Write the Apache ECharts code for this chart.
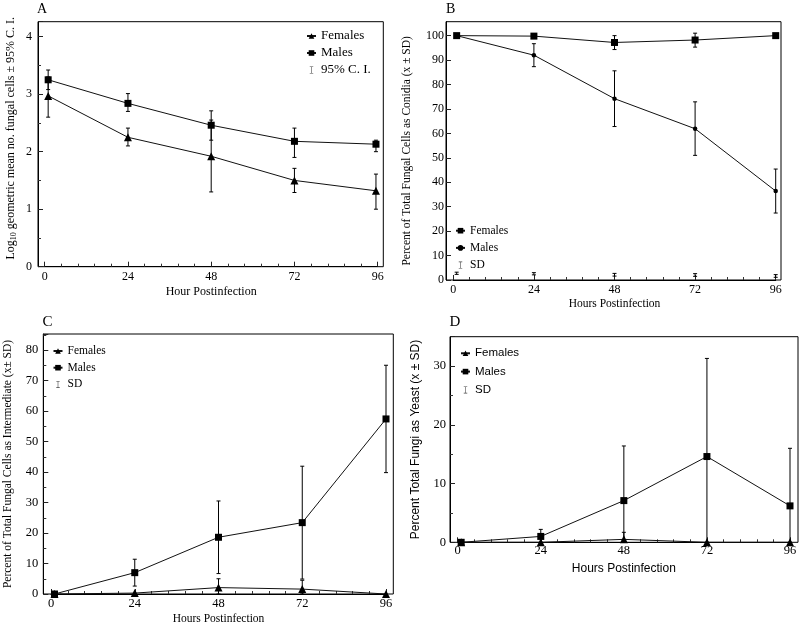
<!DOCTYPE html>
<html><head><meta charset="utf-8">
<script src="https://cdn.jsdelivr.net/npm/echarts@6/dist/echarts.min.js"></script>
<style>html,body{margin:0;padding:0;background:#fff}#c{width:800px;height:629px}</style>
</head><body><div id="c"></div>
<script>
// ---------- data ----------
const hours  = [1, 24, 48, 72, 96];
const hoursA = [1, 24, 48, 72, 95.5];
const xTickLabels = [0, 24, 48, 72, 96];

// Panel A: log10 geometric mean no. fungal cells ± 95% C.I.
const yTicksA = [0, 1, 2, 3, 4];
const aFemales     = [2.97, 2.25, 1.92, 1.50, 1.32];
const aFemalesLow  = [2.60, 2.10, 1.30, 1.29, 1.00];
const aFemalesHigh = [3.30, 2.41, 2.55, 1.71, 1.61];
const aMales       = [3.25, 2.84, 2.46, 2.18, 2.13];
const aMalesLow    = [3.08, 2.70, 2.20, 1.90, 2.00];
const aMalesHigh   = [3.42, 3.01, 2.71, 2.41, 2.20];

// Panel B: percent as conidia
const yTicksB = [0, 10, 20, 30, 40, 50, 60, 70, 80, 90, 100];
const bFemales     = [100, 99.8, 97.2, 98.2, 100];
const bFemalesLow  = [100, 99.8, 94.3, 95.3, 100];
const bFemalesHigh = [100, 99.8, 100.0, 101.0, 100];
const bMales       = [100, 92.0, 74.2, 61.9, 36.4];
const bMalesLow    = [100, 87.3, 62.8, 51.0, 27.4];
const bMalesHigh   = [100, 96.7, 85.6, 72.9, 45.4];
const bBaseLow     = [2.3, 2.1, 1.6, 1.5, 1.1];
const bBaseHigh    = [3.2, 3.0, 2.7, 2.6, 2.2];

// Panel C: percent as intermediate
const yTicksC = [0, 10, 20, 30, 40, 50, 60, 70, 80];
const cFemales     = [0, 0.3, 2.1, 1.6, 0];
const cFemalesLow  = [0, 0.3, 0, 0, 0];
const cFemalesHigh = [0, 0.3, 5.0, 4.5, 0];
const cMales       = [0, 7.0, 18.6, 23.4, 57.4];
const cMalesLow    = [0, 2.6, 6.7, 4.9, 39.8];
const cMalesHigh   = [0, 11.4, 30.5, 41.9, 75.0];

// Panel D: percent as yeast
const yTicksD = [0, 10, 20, 30];
const dFemales     = [0, 0, 0.5, 0, 0];
const dFemalesLow  = [0, 0, 0, 0, 0];
const dFemalesHigh = [0, 0, 1.7, 0, 0];
const dMales       = [0, 1.0, 7.1, 14.6, 6.2];
const dMalesLow    = [0, 0, 0, 0, 0];
const dMalesHigh   = [0, 2.2, 16.4, 31.3, 16.0];

// ---------- layout / style ----------
const SERIF = '"Liberation Serif","Times New Roman",serif';
const SANS = '"Liberation Sans",Arial,sans-serif';
const IBEAM = 'path://M0,0H6V1H3.5V11H6V12H0V11H2.5V1H0Z';

const panels = [
  {key:'A', box:[38,21.7,345.3,245], gx:[44.7,377.7], yMax:4.26, yTicks:yTicksA, yMinor:2,
   xName:'Hour Postinfection', xGap:19, yName:'Log{s|10} geometric mean no. fungal cells ± 95% C. I.', yGap:20, yShift:12,
   nameFont:SERIF, nameSize:12, labelSize:12, xMargin:4, yMargin:6},
  {key:'B', box:[446,21.7,335,258.3], gx:[453.3,775.7], yMax:105.7, yTicks:yTicksB, yMinor:0,
   xName:'Hours Postinfection', xGap:18, yName:'Percent of Total Fungal Cells as Conidia (x ± SD)', yGap:32, yShift:0,
   nameFont:SERIF, nameSize:11.5, labelSize:12, xMargin:4, yMargin:2},
  {key:'C', box:[43.3,334,350,260], gx:[51,386], yMax:85.25, yTicks:yTicksC, yMinor:2,
   xName:'Hours Postinfection', xGap:18.5, yName:'Percent of Total Fungal Cells as Intermediate (x± SD)', yGap:28, yShift:0,
   nameFont:SERIF, nameSize:11.5, labelSize:12.5, xMargin:3, yMargin:5},
  {key:'D', box:[450,336.7,348,205.6], gx:[457.7,790], yMax:35, yTicks:yTicksD, yMinor:2,
   xName:'Hours Postinfection', xGap:20, yName:'Percent Total Fungi as Yeast (x ± SD)', yGap:27, yShift:0,
   nameFont:SANS, nameSize:12, labelSize:12.5, xMargin:2, yMargin:4}
];

const pts = (xs, ys) => xs.map((x, i) => [x, ys[i]]);
const bars = (xs, lo, hi) => xs.map((x, i) => [x, lo[i], hi[i]]);

function errItem(params, api) {
  const x = api.value(0), lo = api.value(1), hi = api.value(2);
  if (!(hi > lo)) return null;
  const a = api.coord([x, hi]), b = api.coord([x, lo]);
  const w = 2;
  const st = {stroke: '#000', lineWidth: 1};
  return {type: 'group', children: [
    {type: 'line', shape: {x1: a[0], y1: a[1], x2: b[0], y2: b[1]}, style: st},
    {type: 'line', shape: {x1: a[0] - w, y1: a[1], x2: a[0] + w, y2: a[1]}, style: st},
    {type: 'line', shape: {x1: b[0] - w, y1: b[1], x2: b[0] + w, y2: b[1]}, style: st}
  ]};
}

const tickStyle = () => ({show: true, inside: true, length: 5, lineStyle: {color: '#222', width: 1}});
const minorStyle = (n) => ({show: n > 0, splitNumber: n || 2, length: 3, lineStyle: {color: '#333', width: 1}});
const grids = [], xAxes = [], yAxes = [];
panels.forEach((p, i) => {
  const [bx, by, bw, bh] = p.box;
  // outer grid: frame + visible y axis
  grids.push({left: bx, top: by, width: bw, height: bh, show: true, borderColor: '#000', borderWidth: 1,
    backgroundColor: 'transparent', outerBoundsMode: 'none', containLabel: false});
  // inner grid: data area spanning 0..96 h
  grids.push({left: p.gx[0], top: by, width: p.gx[1] - p.gx[0], height: bh, outerBoundsMode: 'none', containLabel: false});

  xAxes.push({type: 'value', gridIndex: 2 * i, min: 0, max: 1, show: false});
  xAxes.push({
    type: 'value', gridIndex: 2 * i + 1, min: xTickLabels[0], max: xTickLabels[xTickLabels.length - 1],
    interval: xTickLabels[1] - xTickLabels[0], position: 'bottom',
    name: p.xName, nameLocation: 'middle', nameGap: p.xGap,
    nameTextStyle: {fontFamily: p.nameFont, fontSize: p.nameSize, color: '#000'},
    axisLine: {show: true, onZero: false, lineStyle: {color: '#000', width: 1}},
    axisTick: tickStyle(),
    minorTick: minorStyle(5),
    splitLine: {show: false},
    axisLabel: {fontFamily: SERIF, fontSize: p.labelSize, color: '#000', margin: p.xMargin}
  });
  const yRange = {min: p.yTicks[0], max: p.yMax, interval: p.yTicks[1] - p.yTicks[0]};
  yAxes.push(Object.assign({
    type: 'value', gridIndex: 2 * i, position: 'left',
    name: p.yName, nameLocation: 'middle', nameGap: p.yGap,
    nameTextStyle: {fontFamily: p.nameFont, fontSize: p.nameSize, color: '#000', lineHeight: 15,
      padding: [0, 0, 0, p.yShift],
      rich: {s: {fontFamily: p.nameFont, fontSize: 8, lineHeight: 8, verticalAlign: 'bottom', color: '#000'}}},
    axisLine: {show: true, onZero: false, lineStyle: {color: '#000', width: 1}},
    axisTick: tickStyle(),
    minorTick: minorStyle(p.yMinor),
    splitLine: {show: false},
    axisLabel: {fontFamily: SERIF, fontSize: p.labelSize, color: '#000', margin: p.yMargin, showMaxLabel: false}
  }, yRange));
  yAxes.push(Object.assign({type: 'value', gridIndex: 2 * i + 1, show: false}, yRange));
});

const titleStyle = (size) => ({fontFamily: SERIF, fontSize: size, fontWeight: 'normal', color: '#000'});
const titles = [
  {text: 'A', left: 37, top: 2, padding: 0, textStyle: titleStyle(14)},
  {text: 'B', left: 446, top: 2, padding: 0, textStyle: titleStyle(14)},
  {text: 'C', left: 42.5, top: 315, padding: 0, textStyle: titleStyle(15)},
  {text: 'D', left: 449.5, top: 315, padding: 0, textStyle: titleStyle(15)}
];

function lineSeries(name, idx, data, symbol, size) {
  return {type: 'line', name, xAxisIndex: 2 * idx + 1, yAxisIndex: 2 * idx + 1, data,
    symbol, symbolSize: size, showSymbol: true, z: 3,
    itemStyle: {color: '#000'}, lineStyle: {color: '#111', width: 1}, emphasis: {disabled: true}};
}
function errSeries(name, idx, data) {
  return {type: 'custom', name, xAxisIndex: 2 * idx + 1, yAxisIndex: 2 * idx + 1, data, renderItem: errItem,
    encode: {x: 0, y: [1, 2]}, itemStyle: {color: '#444'}, z: 2, silent: true};
}

const series = [
  errSeries('A:95% C. I.', 0, bars(hoursA, aFemalesLow, aFemalesHigh).concat(bars(hoursA, aMalesLow, aMalesHigh))),
  lineSeries('A:Females', 0, pts(hoursA, aFemales), 'triangle', 8),
  lineSeries('A:Males', 0, pts(hoursA, aMales), 'rect', 7),

  errSeries('B:SD', 1, bars(hours, bFemalesLow, bFemalesHigh).concat(bars(hours, bMalesLow, bMalesHigh), bars(hours, bBaseLow, bBaseHigh))),
  lineSeries('B:Females', 1, pts(hours, bFemales), 'rect', 7),
  lineSeries('B:Males', 1, pts(hours, bMales), 'circle', 4.5),

  errSeries('C:SD', 2, bars(hours, cFemalesLow, cFemalesHigh).concat(bars(hours, cMalesLow, cMalesHigh))),
  lineSeries('C:Females', 2, pts(hours, cFemales), 'triangle', 8),
  lineSeries('C:Males', 2, pts(hours, cMales), 'rect', 7),

  errSeries('D:SD', 3, bars(hours, dFemalesLow, dFemalesHigh).concat(bars(hours, dMalesLow, dMalesHigh))),
  lineSeries('D:Females', 3, pts(hours, dFemales), 'triangle', 8),
  lineSeries('D:Males', 3, pts(hours, dMales), 'rect', 7)
];

const strip = n => n.slice(2);
function legend(key, errName, left, top, font, size, lh, gap) {
  return {data: [{name: key + ':Females'}, {name: key + ':Males'}, {name: key + ':' + errName, icon: IBEAM}],
    left, top, orient: 'vertical', padding: 0, itemWidth: 9, itemHeight: 7, itemGap: gap,
    selectedMode: false, formatter: strip,
    textStyle: {fontFamily: font, fontSize: size, lineHeight: lh, color: '#000'}};
}

const chart = echarts.init(document.getElementById('c'), null, {renderer: 'canvas'});
chart.setOption({
  animation: false,
  backgroundColor: '#fff',
  title: titles,
  grid: grids,
  xAxis: xAxes,
  yAxis: yAxes,
  legend: [
    legend('A', '95% C. I.', 306, 29, SERIF, 13, 14, 3),
    legend('B', 'SD', 455, 224.7, SERIF, 11.5, 12, 5.2),
    legend('C', 'SD', 52.5, 345, SERIF, 11.5, 12, 4.7),
    legend('D', 'SD', 460, 346.8, SANS, 11.5, 13, 5.3)
  ],
  series
});
</script>
</body></html>
